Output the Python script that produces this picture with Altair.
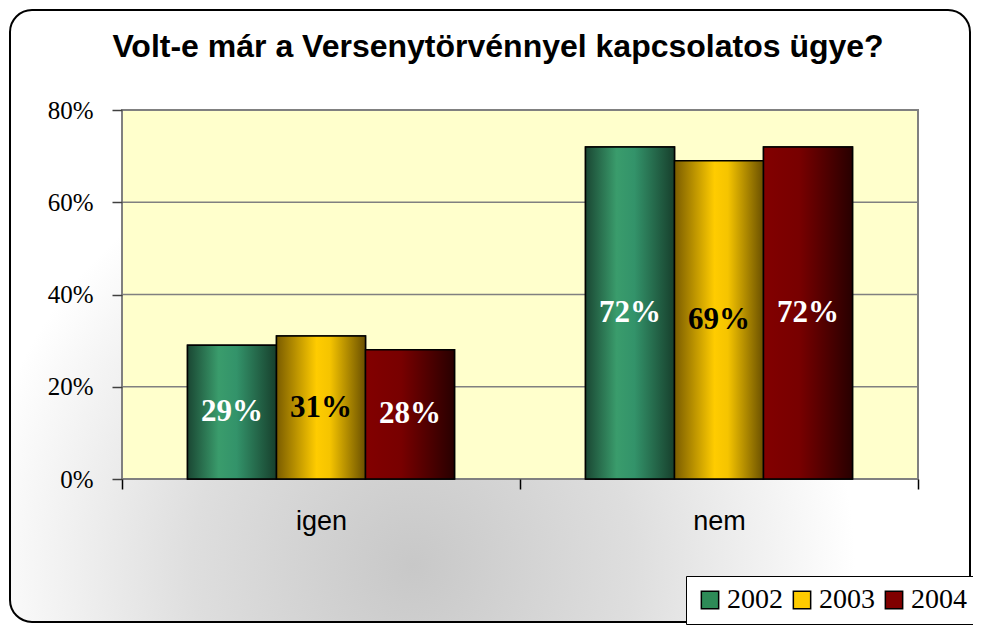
import altair as alt
import pandas as pd

# ---- data ----
categories = ["igen", "nem"]
years = ["2002", "2003", "2004"]
values_2002 = [29, 72]
values_2003 = [31, 69]
values_2004 = [28, 72]
y_ticks = [0, 20, 40, 60, 80]
grid_values = [20, 40, 60, 80]
title_text = "Volt-e már a Versenytörvénnyel kapcsolatos ügye?"
solid_colors = ["#2E8B57", "#FFCC00", "#800000"]

rows = []
for yr, vals in zip(years, [values_2002, values_2003, values_2004]):
    for c, v in zip(categories, vals):
        rows.append({"cat": c, "year": yr, "value": v})
df = pd.DataFrame(rows)
grid_df = pd.DataFrame({"value": grid_values})
one = pd.DataFrame({"a": [0]})

W, H = 796, 369

def grad(stops):
    return alt.LinearGradient(
        gradient="linear", x1=0, x2=1, y1=0, y2=0,
        stops=[alt.GradientStop(offset=o, color=c) for o, c in stops])

gradients = {
    "2002": grad([(0, "#1A4733"), (0.35, "#3A9C6C"), (0.55, "#33936A"), (1, "#173F2C")]),
    "2003": grad([(0, "#7A5C00"), (0.45, "#FFCC00"), (0.6, "#F5C400"), (1, "#6A5000")]),
    "2004": grad([(0, "#820000"), (0.4, "#780000"), (1, "#280000")]),
}

x_axis = alt.Axis(title=None, tickBand="extent", domain=False, tickSize=10,
                  tickColor="#000000", tickWidth=1.5, labelFont="Liberation Sans",
                  labelFontSize=27, labelColor="black", labelPadding=19,
                  labelAngle=0, grid=False, zindex=1)
y_axis = alt.Axis(title=None, values=y_ticks, labelExpr="datum.value + '%'",
                  domain=False, tickSize=10, tickColor="#404040", tickWidth=1.5,
                  labelFont="Liberation Serif", labelFontSize=25,
                  labelColor="black", labelPadding=19, grid=False, zindex=1)

x_enc = alt.X("cat:N", scale=alt.Scale(domain=categories, paddingInner=0,
                                       paddingOuter=0), axis=x_axis)
xo_enc = alt.XOffset("year:N", scale=alt.Scale(domain=years, paddingInner=0,
                                               paddingOuter=0.736))
y_scale = alt.Scale(domain=[0, 80])

frame = alt.Chart(one).mark_rect(
    cornerRadius=22, stroke="black", strokeWidth=2,
    fill=alt.RadialGradient(gradient="radial", x1=0.42, y1=0.76, r1=0,
                            x2=0.42, y2=0.76, r2=0.46,
                            stops=[alt.GradientStop(offset=0, color="#C8C8C8"),
                                   alt.GradientStop(offset=0.5, color="#DEDEDE"),
                                   alt.GradientStop(offset=1, color="#FFFFFF")])
).encode(x=alt.value(-112), x2=alt.value(848), y=alt.value(-100), y2=alt.value(512))

plot_bg = alt.Chart(one).mark_rect(fill="#FFFFCC", stroke="#808080", strokeWidth=2).encode(
    x=alt.value(0), x2=alt.value("width"), y=alt.value(0), y2=alt.value("height"))

grid = alt.Chart(grid_df).mark_rule(color="#808080", strokeWidth=1.5).encode(
    y=alt.Y("value:Q", scale=y_scale, axis=y_axis))

legend_bars = alt.Chart(df).mark_bar(stroke="black", strokeWidth=1.5).encode(
    x=x_enc, xOffset=xo_enc,
    y=alt.Y("value:Q", scale=y_scale, axis=y_axis),
    color=alt.Color("year:N", scale=alt.Scale(domain=years, range=solid_colors),
                    legend=alt.Legend(orient="none", legendX=564, legendY=466,
                                      direction="horizontal", title=None,
                                      symbolType="square", symbolSize=300,
                                      symbolStrokeColor="black", symbolStrokeWidth=1.5,
                                      labelFont="Liberation Serif", labelFontSize=28,
                                      labelColor="black", fillColor="white",
                                      strokeColor="black", padding=10,
                                      columnPadding=5, labelOffset=3, zindex=1)))

grad_layers = []
for yr in years:
    grad_layers.append(
        alt.Chart(df).transform_filter(alt.datum.year == yr).mark_bar(
            fill=gradients[yr], stroke="black", strokeWidth=1.5).encode(
            x=x_enc, xOffset=xo_enc,
            y=alt.Y("value:Q", scale=y_scale, axis=y_axis)))

labels = alt.Chart(df).transform_calculate(
    mid="datum.value / 2", lab="datum.value + '%'").mark_text(
    font="Liberation Serif", fontSize=31, fontWeight="bold", baseline="middle").encode(
    x=x_enc, xOffset=xo_enc,
    y=alt.Y("mid:Q", scale=y_scale, axis=y_axis),
    text="lab:N",
    color=alt.condition("datum.year == '2003'", alt.value("black"), alt.value("white")))

chart = alt.layer(frame, plot_bg, grid, legend_bars, *grad_layers, labels).properties(
    width=W, height=H,
    autosize=alt.AutoSizeParams(type="none"),
    padding={"left": 114, "top": 102, "right": 55, "bottom": 146},
    title=alt.TitleParams(text=title_text, font="Liberation Sans", fontSize=32,
                          fontWeight="bold", color="black", anchor="middle",
                          frame="group", dx=-22, baseline="alphabetic",
                          offset=-80, zindex=1),
).configure_view(stroke=None).configure(background="white")

chart.save("out.html", embed_options={"renderer": "svg", "actions": False})
